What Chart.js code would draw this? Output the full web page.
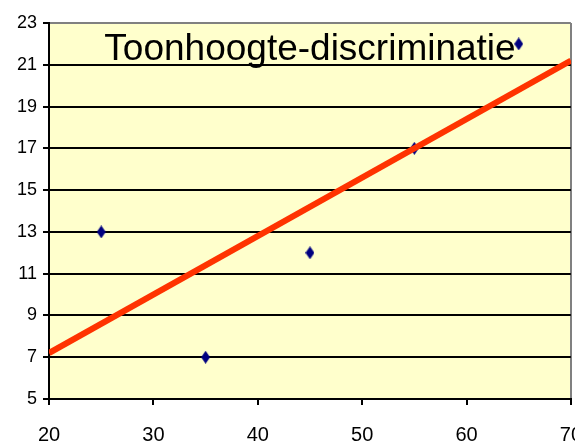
<!DOCTYPE html>
<html>
<head>
<meta charset="utf-8">
<script src="https://cdn.jsdelivr.net/npm/chart.js@4/dist/chart.umd.min.js"></script>
<style>
  html, body { margin: 0; padding: 0; background: #fff; overflow: hidden; }
  canvas { display: block; }
</style>
</head>
<body>
<canvas id="chart" width="600" height="465"></canvas>
<script>
// measured points
var xValues = [25, 35, 45, 55, 65];
var yValues = [13, 7, 12, 17, 22];
// trend line ends
var trendX = [20, 70];
var trendY = [7.2, 21.2];
var titleText = 'Toonhoogte-discriminatie';

// diamond marker (taller than wide)
var diamond = document.createElement('canvas');
diamond.width = 9; diamond.height = 13;
var dctx = diamond.getContext('2d');
dctx.fillStyle = '#000080';
dctx.beginPath();
dctx.moveTo(4.5, 0); dctx.lineTo(9, 6.5); dctx.lineTo(4.5, 13); dctx.lineTo(0, 6.5);
dctx.closePath(); dctx.fill();

var plotBg = {
    id: 'plotBg',
    beforeDraw: function(chart) {
        var a = chart.chartArea, c = chart.ctx;
        c.save();
        c.fillStyle = '#FFFFCC';
        c.fillRect(a.left, a.top, a.right - a.left, a.bottom - a.top);
        c.restore();
    }
};

var inTitle = {
    id: 'inTitle',
    afterDatasetsDraw: function(chart) {
        var c = chart.ctx;
        c.save();
        c.fillStyle = '#000';
        c.font = '37px "Liberation Sans", Arial, sans-serif';
        c.textAlign = 'center';
        c.textBaseline = 'alphabetic';
        c.fillText(titleText, 310, 60);
        c.restore();
    }
};

var points = xValues.map(function(x, i) { return {x: x, y: yValues[i]}; });
var trend = trendX.map(function(x, i) { return {x: x, y: trendY[i]}; });

new Chart(document.getElementById('chart'), {
    type: 'scatter',
    data: {
        datasets: [{
            data: trend,
            showLine: true,
            borderColor: '#FF3300',
            borderWidth: 6,
            pointRadius: 0,
            order: 0
        }, {
            data: points,
            pointStyle: diamond,
            pointRadius: 5,
            order: 1
        }]
    },
    options: {
        responsive: false,
        animation: false,
        layout: { padding: { top: 23, right: 9, left: 11, bottom: 0 } },
        plugins: { legend: { display: false }, tooltip: { enabled: false }, title: { display: false } },
        scales: {
            x: {
                type: 'linear',
                min: 20, max: 70,
                ticks: { stepSize: 10, color: '#000', padding: 18,
                    font: { family: '"Liberation Sans", Arial', size: 20 } },
                grid: {
                    drawOnChartArea: true,
                    color: function(ctx) { return ctx.tick && ctx.tick.value === 70 ? '#808080' : 'rgba(0,0,0,0)'; },
                    lineWidth: 2,
                    tickColor: '#000',
                    tickLength: 6,
                    tickWidth: 2
                },
                border: { color: '#000', width: 2 }
            },
            y: {
                min: 5, max: 23,
                ticks: { stepSize: 2, color: '#000', padding: 6,
                    font: { family: '"Liberation Sans", Arial', size: 18 } },
                grid: {
                    color: function(ctx) { return ctx.tick && ctx.tick.value === 23 ? '#808080' : '#000'; },
                    lineWidth: 2,
                    tickColor: '#000',
                    tickLength: 6,
                    tickWidth: 2
                },
                border: { color: '#000', width: 2 }
            }
        }
    },
    plugins: [plotBg, inTitle]
});
</script>
</body>
</html>
